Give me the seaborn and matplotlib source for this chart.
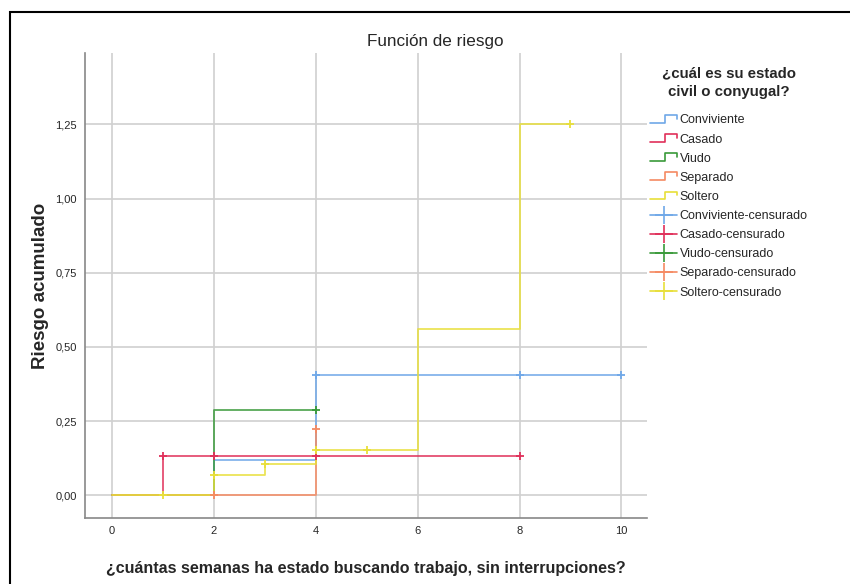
import matplotlib
import numpy as np
import pandas as pd
import seaborn as sns
from matplotlib import pyplot as plt
from matplotlib.legend_handler import HandlerLine2D
from matplotlib.lines import Line2D
from matplotlib.patches import Rectangle

matplotlib.use("Agg")

groups = ["Conviviente", "Casado", "Viudo", "Separado", "Soltero"]
colors = ["#6fa8e8", "#e0305a", "#3a9a3a", "#f58a62", "#e8df3a"]

# step points (time, cumulative hazard) per group
conviviente_t = [0, 2, 4, 10]
conviviente_h = [0.0, 0.118, 0.406, 0.406]
casado_t = [0, 1, 8]
casado_h = [0.0, 0.133, 0.133]
viudo_t = [0, 2, 4]
viudo_h = [0.0, 0.286, 0.286]
separado_t = [0, 4, 4]
separado_h = [0.0, 0.222, 0.222]
soltero_t = [0, 2, 3, 4, 6, 8, 9]
soltero_h = [0.0, 0.068, 0.106, 0.152, 0.560, 1.25, 1.25]

# censored observations
conviviente_cens_t = [4, 8, 10]
conviviente_cens_h = [0.406, 0.406, 0.406]
casado_cens_t = [1, 2, 4, 8]
casado_cens_h = [0.133, 0.133, 0.133, 0.133]
viudo_cens_t = [4]
viudo_cens_h = [0.286]
separado_cens_t = [2, 4]
separado_cens_h = [0.0, 0.222]
soltero_cens_t = [1, 2, 3, 4, 5, 9]
soltero_cens_h = [0.0, 0.068, 0.106, 0.152, 0.152, 1.25]

x_ticks = [0, 2, 4, 6, 8, 10]
y_ticks = [0.0, 0.25, 0.5, 0.75, 1.0, 1.25]


class StepHandler(HandlerLine2D):
    def create_artists(self, legend, orig_handle, xdescent, ydescent, width, height, fontsize, trans):
        x0 = -xdescent
        xs = [x0, x0 + width * 0.55, x0 + width * 0.55, x0 + width, x0 + width]
        ys = [-ydescent + height * 0.1, -ydescent + height * 0.1, -ydescent + height * 0.95,
              -ydescent + height * 0.95, -ydescent + height * 0.55]
        line = Line2D(xs, ys, color=orig_handle.get_color(), lw=1.2, transform=trans)
        return [line]


def build_frames():
    steps = pd.concat([
        pd.DataFrame({"t": conviviente_t, "h": conviviente_h, "grupo": "Conviviente"}),
        pd.DataFrame({"t": casado_t, "h": casado_h, "grupo": "Casado"}),
        pd.DataFrame({"t": viudo_t, "h": viudo_h, "grupo": "Viudo"}),
        pd.DataFrame({"t": separado_t, "h": separado_h, "grupo": "Separado"}),
        pd.DataFrame({"t": soltero_t, "h": soltero_h, "grupo": "Soltero"}),
    ])
    cens = pd.concat([
        pd.DataFrame({"t": conviviente_cens_t, "h": conviviente_cens_h, "grupo": "Conviviente"}),
        pd.DataFrame({"t": casado_cens_t, "h": casado_cens_h, "grupo": "Casado"}),
        pd.DataFrame({"t": viudo_cens_t, "h": viudo_cens_h, "grupo": "Viudo"}),
        pd.DataFrame({"t": separado_cens_t, "h": separado_cens_h, "grupo": "Separado"}),
        pd.DataFrame({"t": soltero_cens_t, "h": soltero_cens_h, "grupo": "Soltero"}),
    ])
    return steps, cens


def main():
    sns.set_style("white")
    plt.rcParams["font.family"] = ["Liberation Sans", "DejaVu Sans"]

    steps, cens = build_frames()
    palette = dict(zip(groups, colors))

    fig = plt.figure(figsize=(8.5, 5.84), dpi=100)
    ax = fig.add_axes([0.1, 0.113, 0.661, 0.796])

    for g in groups:
        sns.lineplot(data=steps[steps["grupo"] == g], x="t", y="h", color=palette[g],
                     drawstyle="steps-post", estimator=None, sort=False, lw=1.3,
                     alpha=0.85, ax=ax, legend=False)
        sns.scatterplot(data=cens[cens["grupo"] == g], x="t", y="h", color=palette[g],
                        marker="+", s=40, linewidth=1.3, ax=ax, legend=False, zorder=4)

    ax.set_xlim(-0.53, 10.5)
    ax.set_ylim(-0.077, 1.49)
    ax.set_xticks(x_ticks)
    ax.set_yticks(y_ticks)
    ax.set_xticklabels([str(v) for v in x_ticks], fontsize=8)
    ax.set_yticklabels([f"{v:.2f}".replace(".", ",") for v in y_ticks], fontsize=8)
    ax.tick_params(length=0, pad=6)
    ax.grid(True, color="#d0d0d0", lw=1.2)
    ax.set_axisbelow(True)
    for side in ["top", "right"]:
        ax.spines[side].set_visible(False)
    for side in ["left", "bottom"]:
        ax.spines[side].set_color("#888888")
        ax.spines[side].set_linewidth(1.2)

    ax.set_xlabel("¿cuántas semanas ha estado buscando trabajo, sin interrupciones?",
                  fontsize=11.5, fontweight="bold", labelpad=18)
    ax.set_ylabel("Riesgo acumulado", fontsize=13.5, fontweight="bold", labelpad=4)
    fig.text(0.512, 0.929, "Función de riesgo", ha="center", va="center", fontsize=12.3)

    handles = []
    labels = []
    for g, c in zip(groups, colors):
        handles.append(Line2D([], [], color=c))
        labels.append(g)
    for g, c in zip(groups, colors):
        handles.append(Line2D([0, 1], [0, 0], color=c, marker="+", markersize=13,
                              markeredgewidth=1.2, lw=1.2))
        labels.append(f"{g}-censurado")
    handler_map = {h: StepHandler() for h in handles[:5]}
    leg = fig.legend(handles, labels, loc="upper left", bbox_to_anchor=(0.752, 0.905),
                     frameon=False, handlelength=2.1, handletextpad=0.25,
                     labelspacing=0.57, handler_map=handler_map, numpoints=1,
                     prop={"size": 9},
                     title="¿cuál es su estado\ncivil o conyugal?",
                     title_fontproperties={"weight": "bold", "size": 10.8})
    leg.get_title().set_multialignment("center")
    leg.get_title().set_linespacing(1.4)
    leg.set_alignment("center")
    leg._legend_box.sep = 11

    fig.patches.append(Rectangle((10 / 850, -0.1), 1.1, 1.1 - 12 / 584, fill=False,
                                 edgecolor="black", lw=1.5, transform=fig.transFigure,
                                 figure=fig))

    fig.savefig("out.png", dpi=100)


if __name__ == "__main__":
    main()
